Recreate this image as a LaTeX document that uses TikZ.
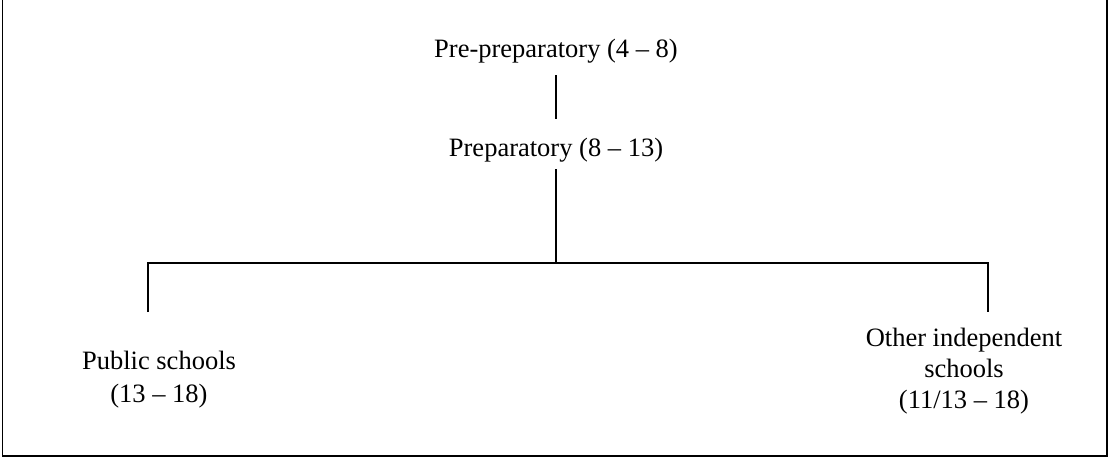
\documentclass[tikz,border=0pt]{standalone}
\usepackage{fontspec}
\setmainfont{Liberation Serif}
\begin{document}
\begin{tikzpicture}[x=1pt,y=-1pt,
  lbl/.style={inner sep=0pt, text height=19pt, text depth=6pt, font=\fontsize{26.5}{32}\selectfont, align=center},
  conn/.style={line width=1.6pt},
  frame/.style={line width=1.8pt}]
\useasboundingbox (0,0) rectangle (1109,458);
\draw[frame] (2.5,-5) -- (2.5,456) -- (1107,456) -- (1107,-5);
\node[lbl, anchor=base] (pre) at (556,57) {Pre-preparatory (4 -- 8)};
\node[lbl, anchor=base] (prep) at (556,156) {Preparatory (8 -- 13)};
\node[lbl, anchor=base, font=\fontsize{26.5}{33}\selectfont] (pub) at (159,402) {Public schools\\(13 -- 18)};
\node[lbl, anchor=base, font=\fontsize{26.5}{31}\selectfont] (oth) at (964,408) {Other independent\\schools\\(11/13 -- 18)};
\coordinate (j) at (556,263);
\coordinate (l) at (148,263);
\coordinate (r) at (988,263);
\coordinate (ld) at (148,312);
\coordinate (rd) at (988,312);
\draw[conn, shorten <=12pt, shorten >=18pt] (pre) -- (prep);
\draw[conn, shorten <=7pt] (prep) -- (j);
\draw[conn] (ld) -- (l) -- (r) -- (rd);
\end{tikzpicture}
\end{document}
